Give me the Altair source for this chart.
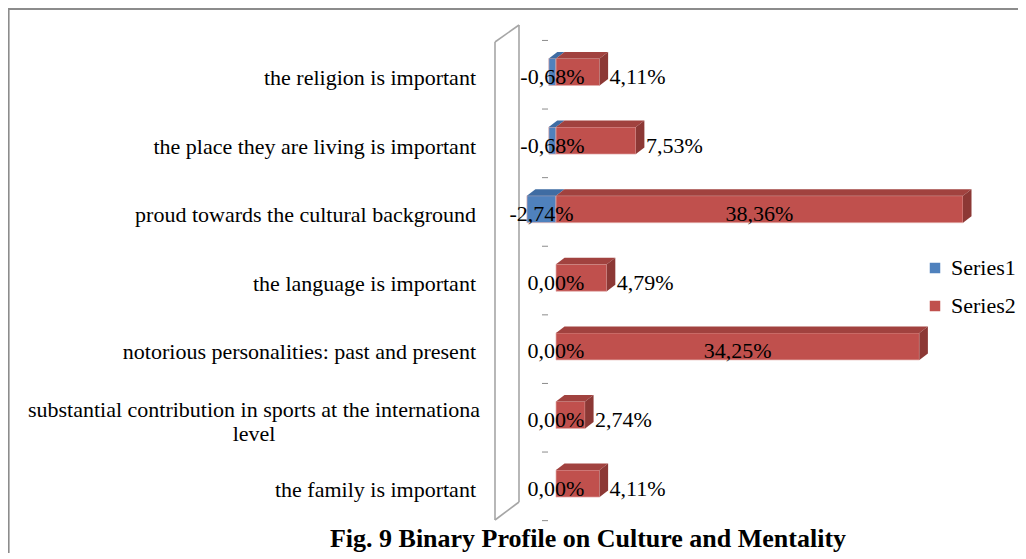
import altair as alt
import pandas as pd

# ---------------- data ----------------
categories = [
    "the religion is important",
    "the place they are living is important",
    "proud towards the cultural background",
    "the language is important",
    "notorious  personalities: past and present",
    "substantial contribution in sports at the internationa level",
    "the family is important",
]
label_lines = [
    ["the religion is important"],
    ["the place they are living is important"],
    ["proud towards the cultural background"],
    ["the language is important"],
    ["notorious  personalities: past and present"],
    ["substantial contribution in sports at the internationa", "level"],
    ["the family is important"],
]
series1 = [-0.68, -0.68, -2.74, 0.00, 0.00, 0.00, 0.00]
series2 = [4.11, 7.53, 38.36, 4.79, 34.25, 2.74, 4.11]
series_names = ["Series1", "Series2"]
title_text = "Fig. 9 Binary Profile on Culture and Mentality"

# ---------------- styling ----------------
series_colors = ["#4F81BD", "#C0504D"]
top_colors = {"Series1": "#3F6CA3", "Series2": "#A1423F"}
side_color = "#8C3835"
FONT = "Liberation Serif"

W, H = 1010, 545
PX = 10.61      # pixels per percentage point
X0 = 548        # pixel position of 0 %
S = 68.6        # pixels per category row
Y0 = 64         # pixel centre of first row face
HH = 13.5 / S   # half face height (row units)
DX = 8.5 / PX   # 3-D depth, x (data units)
DY = 6.5 / S    # 3-D depth, y (row units)

xscale = alt.Scale(domain=[-X0 / PX, (W - X0) / PX], nice=False, zero=False)
yscale = alt.Scale(domain=[-Y0 / S, (H - Y0) / S], nice=False, zero=False, reverse=True)


def fmt(v):
    return f"{v:.2f}%".replace(".", ",")


# ---------------- derived tables ----------------
faces, tops, sides = [], [], []
for i, (a, b) in enumerate(zip(series1, series2)):
    for name, lo, hi in (("Series1", a, 0.0), ("Series2", 0.0, b)):
        if hi - lo <= 0:
            continue
        bid = f"{name}-{i}"
        faces.append(dict(series=name, x0=lo, x1=hi, yt=i - HH, yb=i + HH))
        tops.append(dict(id=bid, c=top_colors[name], y=i - HH, xa=lo, xb=hi))
        tops.append(dict(id=bid, c=top_colors[name], y=i - HH - DY, xa=lo + DX, xb=hi + DX))
        if name == "Series2":
            sides.append(dict(id=bid, x=hi, ya=i - HH, yb=i + HH))
            sides.append(dict(id=bid, x=hi + DX, ya=i - HH - DY, yb=i + HH - DY))

df_face = pd.DataFrame(faces)
df_top = pd.DataFrame(tops)
df_side = pd.DataFrame(sides)

df_l1 = pd.DataFrame(dict(pos=range(len(series1)), x=[v / 2 for v in series1],
                          t=[fmt(v) for v in series1]))
df_l2 = pd.DataFrame(dict(pos=range(len(series2)), v=series2,
                          xin=[v / 2 for v in series2], t=[fmt(v) for v in series2]))
df_cat = pd.DataFrame(dict(pos=range(len(categories)), lab=label_lines,
                           n=[len(l) for l in label_lines]))
df_sep = pd.DataFrame(dict(sep=[k - 0.46 for k in range(len(categories) + 1)]))

# wall and frame decoration (pixel units)
df_wall = pd.DataFrame(dict(
    x=[487, 511, 487, 487],
    x2=[487, 511, 511, 511],
    y=[34, 17, 34, 512],
    y2=[512, 494, 17, 494],
))
df_frame = pd.DataFrame(dict(x=[0], x2=[W], y=[1], y2=[1]))

X = lambda f: alt.X(f, scale=xscale, axis=None)
Y = lambda f: alt.Y(f, scale=yscale, axis=None)

wall = alt.Chart(df_wall).mark_rule(color="#A6A6A6", strokeWidth=1.6).encode(
    x=alt.X("x:Q", scale=None), x2="x2:Q", y=alt.Y("y:Q", scale=None), y2="y2:Q")
frame = alt.Chart(df_frame).mark_rule(color="#8C8C8C", strokeWidth=2.2).encode(
    x=alt.X("x:Q", scale=None), x2="x2:Q", y=alt.Y("y:Q", scale=None), y2="y2:Q")
left_frame = alt.Chart(df_frame).mark_rule(color="#8C8C8C", strokeWidth=2.2).encode(
    x=alt.value(0.5), y=alt.value(0), y2=alt.value(H))

seps = alt.Chart(df_sep).mark_rule(color="#8C8C8C", strokeWidth=1).encode(
    x=alt.value(534), x2=alt.value(540), y=Y("sep:Q"))

face_layer = alt.Chart(df_face).mark_rect(strokeWidth=0.7, stroke="#E3AFAD").encode(
    x=X("x0:Q"), x2="x1:Q", y=Y("yt:Q"), y2="yb:Q",
    color=alt.Color("series:N",
                    scale=alt.Scale(domain=series_names, range=series_colors),
                    legend=alt.Legend(title=None, orient="none", legendX=916, legendY=249,
                                      symbolType="square", symbolSize=110,
                                      symbolStrokeWidth=0, labelFont=FONT,
                                      labelFontSize=22, labelColor="black",
                                      rowPadding=16, labelOffset=5, padding=0)))

top_layer = alt.Chart(df_top).mark_area(orient="horizontal", interpolate="linear").encode(
    y=alt.Y("y:Q", scale=yscale, axis=None, stack=None), x=X("xa:Q"), x2="xb:Q",
    detail="id:N", fill=alt.Fill("c:N", scale=None))

side_layer = alt.Chart(df_side).mark_area(orient="vertical", interpolate="linear").encode(
    x=alt.X("x:Q", scale=xscale, axis=None, stack=None), y=Y("ya:Q"), y2="yb:Q",
    detail="id:N", fill=alt.value(side_color))

lab_style = dict(font=FONT, fontSize=22, color="black", baseline="middle", dy=5)

l1 = alt.Chart(df_l1).mark_text(align="center", **lab_style).encode(
    x=X("x:Q"), y=Y("pos:Q"), text="t:N")
l2_in = alt.Chart(df_l2).transform_filter("datum.v > 20").mark_text(
    align="center", **lab_style).encode(x=X("xin:Q"), y=Y("pos:Q"), text="t:N")
l2_out = alt.Chart(df_l2).transform_filter("datum.v <= 20").mark_text(
    align="left", dx=10, **lab_style).encode(x=X("v:Q"), y=Y("pos:Q"), text="t:N")

cat1 = alt.Chart(df_cat).transform_filter("datum.n == 1").mark_text(
    align="right", font=FONT, fontSize=22, color="black", baseline="middle", dy=6).encode(
    x=alt.value(468), y=Y("pos:Q"), text="lab:N")
cat2 = alt.Chart(df_cat).transform_filter("datum.n > 1").mark_text(
    align="center", font=FONT, fontSize=22, color="black", baseline="middle", dy=-5,
    lineHeight=24).encode(
    x=alt.value(246), y=Y("pos:Q"), text="lab:N")

title = alt.Chart(pd.DataFrame(dict(t=[title_text]))).mark_text(
    font=FONT, fontSize=26, fontWeight="bold", color="black", align="center",
    baseline="alphabetic").encode(x=alt.value(580), y=alt.value(539), text="t:N")

chart = alt.layer(
    frame, left_frame, wall, seps, face_layer, top_layer, side_layer,
    l1, l2_in, l2_out, cat1, cat2, title
).properties(
    width=W, height=H, autosize=alt.AutoSizeParams(type="none"), padding=0,
    background="white"
).configure_view(stroke=None)

chart.save("out.html", embed_options={"renderer": "svg", "actions": False})
